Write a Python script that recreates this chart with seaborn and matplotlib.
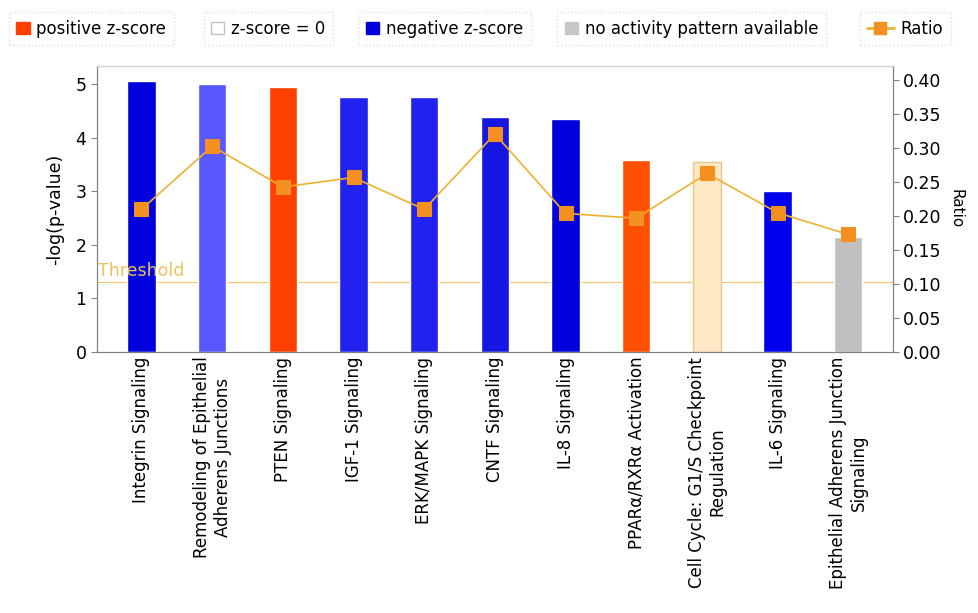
import numpy as np
import pandas as pd
import seaborn as sns
import matplotlib.pyplot as plt
from matplotlib.patches import Patch
from matplotlib.lines import Line2D

# data
pathways = ['Integrin Signaling', 'Remodeling of Epithelial\nAdherens Junctions', 'PTEN Signaling',
            'IGF-1 Signaling', 'ERK/MAPK Signaling', 'CNTF Signaling', 'IL-8 Signaling',
            'PPARα/RXRα Activation', 'Cell Cycle: G1/S Checkpoint\nRegulation', 'IL-6 Signaling',
            'Epithelial Adherens Junction\nSignaling']
neg_log_p = [5.07, 5.0, 4.95, 4.77, 4.77, 4.39, 4.36, 3.59, 3.54, 3.01, 2.15]
ratio = [0.210, 0.303, 0.243, 0.257, 0.210, 0.321, 0.204, 0.197, 0.263, 0.205, 0.173]
bar_colors = ['#0000dd', '#5858ff', '#ff4000', '#2222ee', '#2222ee', '#1616e2', '#0000dd',
              '#ff5000', '#fde8c4', '#0000ee', '#c0c0c0']
threshold = 1.3

sns.set_style('white')
plt.rcParams['font.family'] = ['DejaVu Sans']
plt.rcParams['text.color'] = 'black'
plt.rcParams['axes.labelcolor'] = 'black'
plt.rcParams['xtick.color'] = 'black'
plt.rcParams['ytick.color'] = 'black'

df = pd.DataFrame({'pathway': pathways, 'score': neg_log_p, 'ratio': ratio})

fig = plt.figure(figsize=(9.79, 6.13), dpi=100)
ax = fig.add_axes([0.099, 0.426, 0.813, 0.466])

sns.barplot(data=df, x='pathway', y='score', hue='pathway', palette=bar_colors,
            legend=False, width=0.4, saturation=1, ax=ax)
# cell cycle bar has an outline
ax.patches[8].set_edgecolor('#e8c890')
ax.patches[8].set_linewidth(1)

ax.axhline(threshold, color='#f5c86a', lw=0.9, zorder=0.5)
ax.text(-0.62, threshold + 0.05, 'Threshold', color='#eec060', fontsize=12.5, va='bottom')

ax.set_xlim(-0.63, len(pathways) - 0.37)
ax.set_ylim(0, 5.34)
ax.set_yticks([0, 1, 2, 3, 4, 5])
ax.set_xlabel('')
ax.set_ylabel('-log(p-value)', fontsize=12.5, labelpad=8)
ax.tick_params(axis='x', rotation=90, labelsize=12, length=0)
ax.tick_params(axis='y', labelsize=12.5, length=4, left=True, color='#808080')
for s in ['left', 'bottom', 'right']:
    ax.spines[s].set_color('#808080')
ax.spines['top'].set_color('#d0d0d0')

ax2 = ax.twinx()
sns.lineplot(x=np.arange(len(ratio)), y=ratio, ax=ax2, color='#f0b030', lw=1.2,
             marker='s', markersize=9.5, markerfacecolor='#f39020', markeredgecolor='#f39020')
ax2.set_ylim(0, 0.421)
ax2.set_yticks(np.arange(0, 0.41, 0.05))
ax2.set_yticklabels([f'{v:.2f}' for v in np.arange(0, 0.41, 0.05)])
ax2.set_ylabel('Ratio', rotation=-90, labelpad=16, fontsize=11)
ax2.tick_params(axis='y', labelsize=12.5, length=4, right=True, color='#808080')
for s in ['left', 'bottom', 'right']:
    ax2.spines[s].set_color('#808080')
ax2.spines['top'].set_color('#d0d0d0')

# legend row, one framed box per entry
entries = [
    (Patch(facecolor='#ff4000', edgecolor='#ff4000'), 'positive z-score', 0.009, 0.8),
    (Patch(facecolor='white', edgecolor='#c0c0c0'), 'z-score = 0', 0.208, 0.8),
    (Patch(facecolor='#0000dd', edgecolor='#0000dd'), 'negative z-score', 0.366, 0.8),
    (Patch(facecolor='#c8c8c8', edgecolor='#c8c8c8'), 'no activity pattern available', 0.569, 0.8),
    (Line2D([], [], color='#f0b030', lw=2, marker='s', markersize=9, markerfacecolor='#f39020',
            markeredgecolor='#f39020'), 'Ratio', 0.878, 1.6),
]
for h, lab, x, hl in entries:
    leg = fig.legend([h], [lab], loc='center left', bbox_to_anchor=(x, 0.953), fontsize=12,
                     frameon=True, fancybox=False, handlelength=hl, handletextpad=0.4,
                     borderpad=0.45, borderaxespad=0, edgecolor='#d8d8d8')
    leg.get_frame().set_linestyle(':')

fig.savefig('out.png', dpi=100)
